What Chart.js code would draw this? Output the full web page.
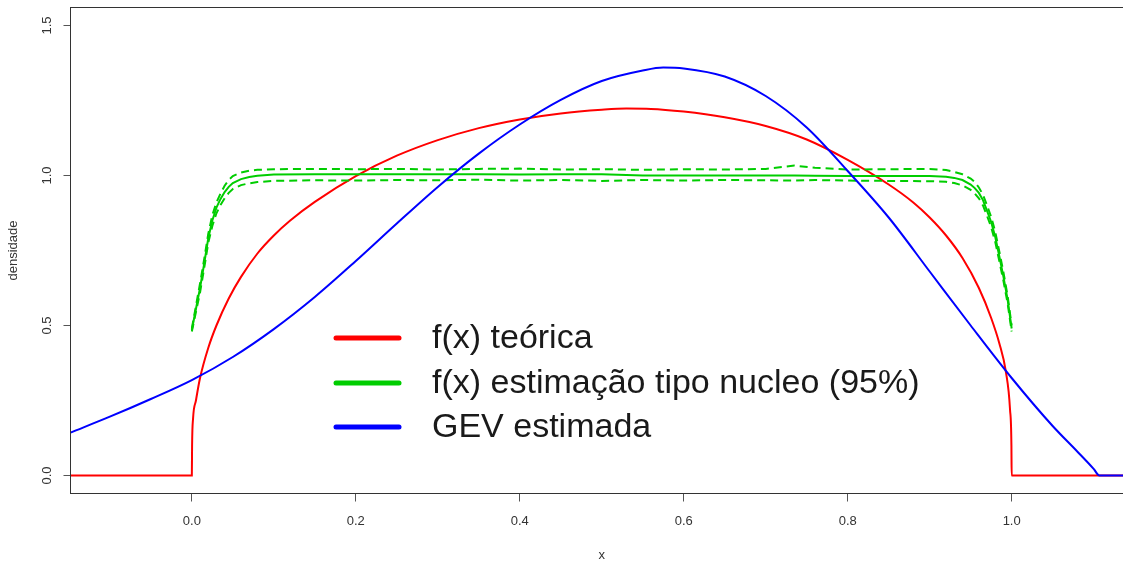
<!DOCTYPE html>
<html>
<head>
<meta charset="utf-8">
<script src="https://cdn.jsdelivr.net/npm/chart.js@4/dist/chart.umd.min.js"></script>
<style>
  html, body { margin: 0; padding: 0; background: #fff; width: 1123px; height: 562px; overflow: hidden; }
  canvas { display: block; }
</style>
</head>
<body>
<canvas id="c" width="1134" height="562" style="width:1134px;height:562px"></canvas>
<script>
// Densidade teórica
const teoricaX = [-0.148, 0, 0.0003, 0.0015, 0.005, 0.01, 0.02, 0.03, 0.045, 0.06, 0.08, 0.1, 0.12, 0.15, 0.2,
  0.25, 0.3, 0.35, 0.4, 0.45, 0.5, 0.53, 0.56, 0.6, 0.65, 0.7, 0.75, 0.8, 0.85, 0.88, 0.9, 0.92, 0.94, 0.96,
  0.975, 0.985, 0.993, 0.998, 0.9997, 1.0, 1.148];
const teoricaY = [0, 0, 0.1, 0.19, 0.25, 0.325, 0.425, 0.5, 0.59, 0.662, 0.74, 0.8, 0.85, 0.912, 0.998,
  1.066, 1.118, 1.158, 1.187, 1.207, 1.219, 1.223, 1.222, 1.213, 1.194, 1.165, 1.12, 1.052, 0.97, 0.91, 0.86, 0.8, 0.725, 0.625,
  0.525, 0.44, 0.345, 0.22, 0.1, 0, 0];

// GEV ajustada
const gevX = [-0.148, -0.1, -0.05, 0, 0.05, 0.1, 0.15, 0.2, 0.25, 0.3, 0.35, 0.4, 0.45, 0.5, 0.55, 0.575,
  0.6, 0.65, 0.7, 0.75, 0.8, 0.85, 0.9, 0.95, 1.0, 1.05, 1.08, 1.1, 1.107, 1.148];
const gevY = [0.143, 0.196, 0.255, 0.318, 0.395, 0.488, 0.595, 0.715, 0.84, 0.962, 1.073, 1.17, 1.252, 1.315, 1.35, 1.36,
  1.357, 1.33, 1.265, 1.16, 1.015, 0.86, 0.68, 0.5, 0.325, 0.165, 0.08, 0.022, 0, 0];

// Estimador tipo núcleo e banda de 95%
const nucleoX = [0, 0.005, 0.01, 0.015, 0.02, 0.025, 0.03, 0.035, 0.04, 0.045, 0.05, 0.06, 0.07, 0.08, 0.1,
  0.15, 0.2, 0.25, 0.3, 0.35, 0.4, 0.45, 0.5, 0.55, 0.6, 0.65, 0.7, 0.735, 0.76, 0.8, 0.85, 0.9,
  0.92, 0.93, 0.94, 0.95, 0.955, 0.96, 0.965, 0.97, 0.975, 0.98, 0.985, 0.99, 0.995, 1.0];
const nucleoY = [0.485, 0.555, 0.625, 0.705, 0.79, 0.85, 0.893, 0.922, 0.945, 0.962, 0.975, 0.988, 0.995, 0.999, 1.003,
  1.004, 1.004, 1.004, 1.004, 1.004, 1.003, 1.004, 1.004, 1.0, 1.0, 1.0, 1.0, 1.0, 0.999, 0.998, 0.998, 0.998,
  0.996, 0.992, 0.985, 0.97, 0.958, 0.942, 0.918, 0.882, 0.845, 0.795, 0.73, 0.662, 0.588, 0.49];
const nucleoSup = [0.49, 0.565, 0.64, 0.72, 0.805, 0.868, 0.91, 0.94, 0.966, 0.985, 0.998, 1.01, 1.016, 1.019, 1.021,
  1.022, 1.021, 1.022, 1.02, 1.022, 1.023, 1.02, 1.021, 1.019, 1.021, 1.02, 1.022, 1.033, 1.026, 1.02, 1.021, 1.022,
  1.018, 1.012, 1.004, 0.99, 0.978, 0.96, 0.936, 0.9, 0.862, 0.812, 0.746, 0.677, 0.6, 0.5];
const nucleoInf = [0.48, 0.545, 0.61, 0.69, 0.775, 0.832, 0.874, 0.902, 0.924, 0.942, 0.955, 0.968, 0.974, 0.978, 0.982,
  0.984, 0.983, 0.985, 0.984, 0.986, 0.983, 0.985, 0.982, 0.985, 0.983, 0.985, 0.984, 0.983, 0.985, 0.983, 0.982, 0.981,
  0.979, 0.975, 0.967, 0.952, 0.94, 0.924, 0.9, 0.865, 0.828, 0.778, 0.714, 0.648, 0.575, 0.48];

const xTicks = [0, 0.2, 0.4, 0.6, 0.8, 1.0];
const yTicks = [0, 0.5, 1.0, 1.5];

const legendLabels = ['f(x) teórica', 'f(x) estimação tipo nucleo (95%)', 'GEV estimada'];
const legendColors = ['#FF0000', '#00CD00', '#0000FF'];

const pts = (xs, ys) => xs.map((x, i) => ({ x, y: ys[i] }));

const FONT = '"Liberation Sans", Arial, sans-serif';
const INK = '#333333';

// Moldura do gráfico e legenda
const frameAndKey = {
  id: 'frameAndKey',
  afterDatasetsDraw(chart) {
    const { ctx, chartArea: a } = chart;
    ctx.save();
    ctx.strokeStyle = INK;
    ctx.lineWidth = 1;
    ctx.strokeRect(a.left, a.top, a.right - a.left, a.bottom - a.top);

    const rows = [338, 383, 427];
    ctx.lineCap = 'round';
    ctx.lineWidth = 5;
    ctx.font = '34px ' + FONT;
    ctx.textBaseline = 'middle';
    ctx.textAlign = 'left';
    legendLabels.forEach((lab, i) => {
      ctx.strokeStyle = legendColors[i];
      ctx.beginPath();
      ctx.moveTo(336, rows[i]);
      ctx.lineTo(399, rows[i]);
      ctx.stroke();
      ctx.fillStyle = '#1a1a1a';
      ctx.fillText(lab, 432, rows[i] + 1);
    });
    ctx.restore();
  }
};

const lineBase = { pointRadius: 0, borderWidth: 2, fill: false };

new Chart(document.getElementById('c'), {
  type: 'line',
  data: {
    datasets: [
      { ...lineBase, label: 'GEV estimada', data: pts(gevX, gevY), borderColor: '#0000FF',
        cubicInterpolationMode: 'monotone', order: 0 },
      { ...lineBase, label: 'núcleo', data: pts(nucleoX, nucleoY), borderColor: '#00CD00', tension: 0, order: 1 },
      { ...lineBase, label: 'sup', data: pts(nucleoX, nucleoSup), borderColor: '#00CD00', borderDash: [8, 5], tension: 0, order: 2 },
      { ...lineBase, label: 'inf', data: pts(nucleoX, nucleoInf), borderColor: '#00CD00', borderDash: [8, 5], tension: 0, order: 3 },
      { ...lineBase, label: 'f(x) teórica', data: pts(teoricaX, teoricaY), borderColor: '#FF0000',
        cubicInterpolationMode: 'monotone', order: 4 }
    ]
  },
  options: {
    responsive: false,
    animation: false,
    events: [],
    layout: { padding: { top: 7.5, right: 1, left: 0, bottom: 0 } },
    plugins: { legend: { display: false }, tooltip: { enabled: false } },
    scales: {
      x: {
        type: 'linear',
        min: -0.148,
        max: 1.148,
        afterBuildTicks: s => { s.ticks = xTicks.map(v => ({ value: v })); },
        afterFit: s => { s.height = 68.5; s.paddingLeft = 0; s.paddingRight = 0; },
        border: { display: false },
        grid: { display: true, drawOnChartArea: false, drawTicks: true, tickLength: 8, color: '#555', lineWidth: 1 },
        ticks: {
          autoSkip: false, maxRotation: 0, minRotation: 0, padding: 12, color: INK,
          font: { family: FONT, size: 13 },
          callback: v => Number(v).toFixed(1)
        },
        title: { display: true, text: 'x', color: INK, font: { family: FONT, size: 13 }, padding: { top: 0, bottom: -1 } }
      },
      y: {
        type: 'linear',
        min: -0.06,
        max: 1.56,
        afterBuildTicks: s => { s.ticks = yTicks.map(v => ({ value: v })); },
        afterFit: s => { s.width = 70.5; s.paddingTop = 0; s.paddingBottom = 0; },
        border: { display: false },
        grid: { display: true, drawOnChartArea: false, drawTicks: true, tickLength: 7, color: '#555', lineWidth: 1 },
        ticks: {
          autoSkip: false, minRotation: 90, maxRotation: 90, crossAlign: 'center', padding: 7, color: INK,
          font: { family: FONT, size: 13 },
          callback: v => Number(v).toFixed(1)
        },
        title: { display: true, text: 'densidade', color: INK, font: { family: FONT, size: 13 }, padding: { top: 6, bottom: 0 } }
      }
    }
  },
  plugins: [frameAndKey]
});
</script>
</body>
</html>
